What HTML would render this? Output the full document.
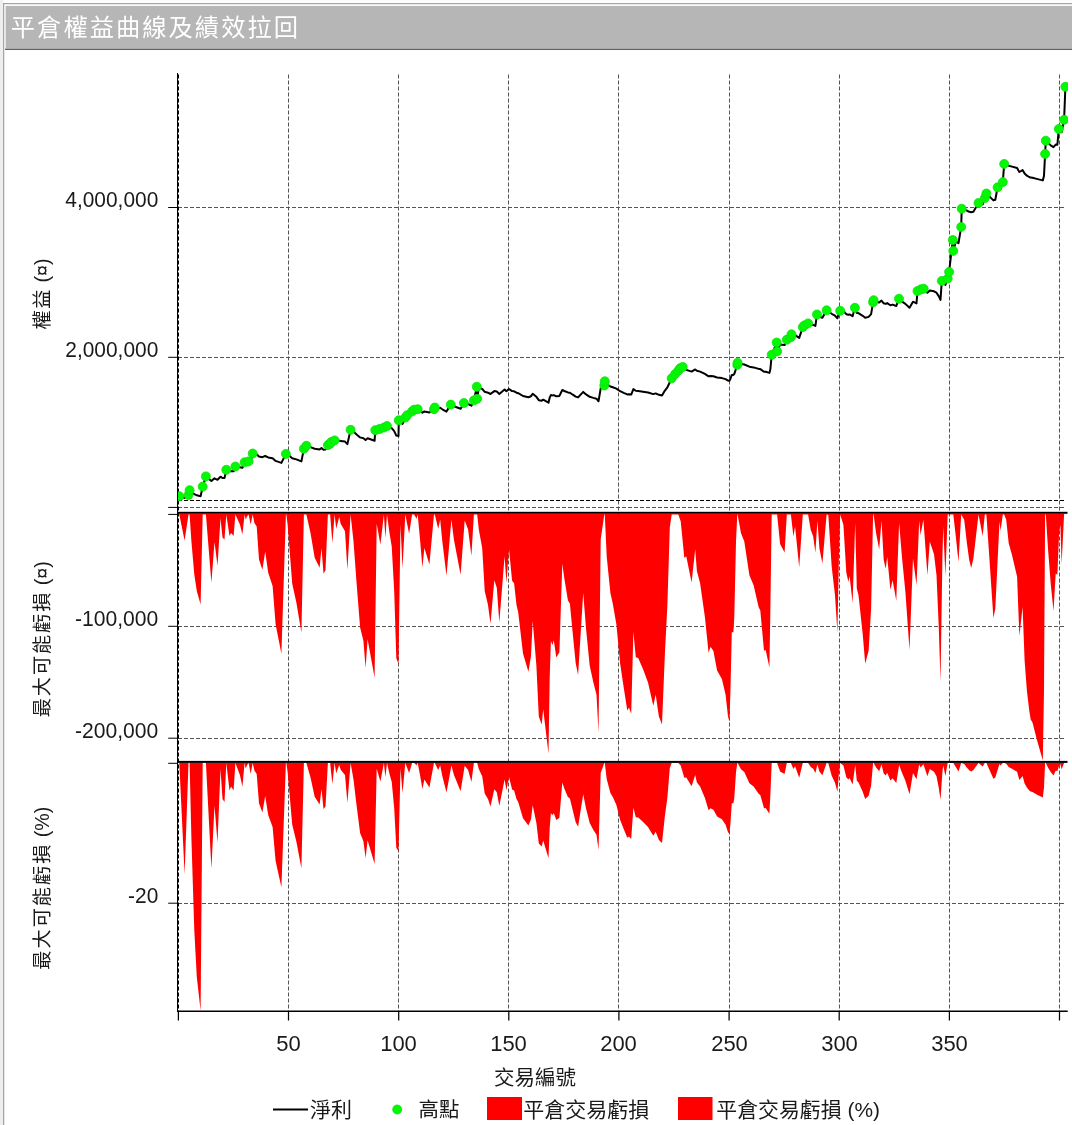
<!DOCTYPE html><html><head><meta charset="utf-8"><title>平倉權益曲線及績效拉回</title>
<style>html,body{margin:0;padding:0;background:#fff;}body{width:1072px;height:1125px;overflow:hidden;}svg{display:block;}text{font-family:'Liberation Sans','Noto Sans CJK TC',sans-serif;fill:#1a1a1a;}</style></head><body>
<svg width="1072" height="1125" viewBox="0 0 1072 1125">
<rect x="0" y="0" width="1072" height="1125" fill="#ffffff"/>
<rect x="0" y="0" width="1072" height="3" fill="#fdfdfd"/>
<rect x="0" y="0" width="3.2" height="1125" fill="#eeeeee"/>
<rect x="3.2" y="3.2" width="1072" height="1" fill="#909090"/>
<rect x="3.2" y="3.2" width="1" height="1125" fill="#909090"/>
<rect x="5.6" y="5.9" width="1070" height="42.8" fill="#b6b6b6"/>
<rect x="5" y="48.7" width="1070" height="1.3" fill="#606060"/>
<text x="10.8" y="35.8" font-size="24.3" letter-spacing="2" style="fill:#ffffff">平倉權益曲線及績效拉回</text>
<defs><clipPath id="plot"><rect x="178" y="60" width="890" height="960"/></clipPath></defs>
<line x1="288.5" y1="74.5" x2="288.5" y2="1011" stroke="#555555" stroke-width="1" stroke-dasharray="4 2"/>
<line x1="398.5" y1="74.5" x2="398.5" y2="1011" stroke="#555555" stroke-width="1" stroke-dasharray="4 2"/>
<line x1="508.5" y1="74.5" x2="508.5" y2="1011" stroke="#555555" stroke-width="1" stroke-dasharray="4 2"/>
<line x1="618.5" y1="74.5" x2="618.5" y2="1011" stroke="#555555" stroke-width="1" stroke-dasharray="4 2"/>
<line x1="729.5" y1="74.5" x2="729.5" y2="1011" stroke="#555555" stroke-width="1" stroke-dasharray="4 2"/>
<line x1="839.5" y1="74.5" x2="839.5" y2="1011" stroke="#555555" stroke-width="1" stroke-dasharray="4 2"/>
<line x1="949.5" y1="74.5" x2="949.5" y2="1011" stroke="#555555" stroke-width="1" stroke-dasharray="4 2"/>
<line x1="1059.5" y1="74.5" x2="1059.5" y2="1011" stroke="#555555" stroke-width="1" stroke-dasharray="4 2"/>
<line x1="178" y1="207.5" x2="1065.5" y2="207.5" stroke="#555555" stroke-width="1" stroke-dasharray="4 2"/>
<line x1="178" y1="357.5" x2="1065.5" y2="357.5" stroke="#555555" stroke-width="1" stroke-dasharray="4 2"/>
<line x1="178" y1="507.5" x2="1065.5" y2="507.5" stroke="#555555" stroke-width="1" stroke-dasharray="4 2"/>
<line x1="178" y1="626.5" x2="1065.5" y2="626.5" stroke="#555555" stroke-width="1" stroke-dasharray="4 2"/>
<line x1="178" y1="738.5" x2="1065.5" y2="738.5" stroke="#555555" stroke-width="1" stroke-dasharray="4 2"/>
<line x1="178" y1="903.5" x2="1065.5" y2="903.5" stroke="#555555" stroke-width="1" stroke-dasharray="4 2"/>
<line x1="178" y1="500.5" x2="1065.5" y2="500.5" stroke="#000" stroke-width="1.1" stroke-dasharray="4 2"/>
<path d="M179.3 513.9 L179.3 514.4 L184.6 540.4 L188.5 514.4 L189.6 514.4 L191.4 541.2 L194.3 574.4 L196.8 591 L200.6 604.6 L202.7 514.4 L205.9 514.4 L211.4 582.7 L214.5 542 L217.5 565.8 L220.5 518.3 L222.5 537.6 L224.5 539.6 L226.3 514.4 L229.5 535.9 L231.1 532.9 L233.6 535.9 L235.4 514.4 L239.9 524.6 L242.4 534.6 L244.6 514.4 L245.7 519.6 L247.1 516.3 L248.6 514.4 L250.7 524.6 L252.7 514.4 L254.4 522.9 L256.7 526.6 L257.7 541.2 L259 559.5 L262.4 569.8 L265.2 551.5 L268.2 572.8 L272.6 586 L275.6 624.2 L281.4 653.8 L285.9 514.4 L286.4 514.6 L287.6 524.6 L292.2 583.6 L296.4 602.7 L301.4 632.5 L303.9 514.4 L306.4 514.4 L310.5 532.9 L314.7 557.8 L319.6 567.8 L321.5 547.9 L323.5 573.6 L325.5 570.3 L327.9 514.4 L330.1 514.4 L332.4 542.9 L334.6 514.4 L336.2 528.8 L339.2 517.1 L340.7 523.8 L345 531.2 L347.4 569.8 L350.6 514.4 L353.5 541.2 L356.3 579.4 L360.1 627.6 L363.4 640.8 L365.6 667.7 L367.6 639.2 L374.6 677.7 L376.7 523.8 L380.4 544.5 L383.9 514.4 L385.4 537.9 L387 514.4 L389.5 532.9 L391.7 546.2 L394.2 591 L396.3 658.3 L398.5 664.1 L400.5 524.6 L402.5 568.6 L405.3 514.4 L409.1 533.7 L412.1 514.4 L414.1 514.4 L416.6 518.8 L417.7 514.4 L419.9 537.9 L422.4 567.4 L424.4 547.9 L429.4 564.5 L434 514.4 L434.8 514.4 L438.2 528.8 L440.2 519.6 L442.3 541.2 L446.5 575.8 L451.4 519.6 L453.9 539.6 L460.6 574.8 L464.7 520.5 L468.1 529.6 L471.4 555.8 L473.9 514.4 L477.2 514.4 L478.8 529.6 L482.2 547.9 L484.7 591 L488 605.1 L490.5 623.7 L494.3 580.2 L496.8 587.7 L499.3 622.6 L504.6 556.2 L506.4 582.7 L509 549.2 L512.1 580.8 L514.1 583.2 L516.5 605 L518.2 612.3 L523 653.5 L528.4 671.7 L531 656 L532.7 620.8 L536.4 665.7 L538.8 716.6 L541.7 724.6 L543.2 709.3 L548.5 753.7 L549.7 677.8 L550.9 640.9 L552.6 645 L553.8 640.2 L556.3 657.6 L559.4 652.3 L562.3 563.8 L564.3 578.3 L567.9 600.2 L569.9 603.8 L572.8 634.1 L575.7 663.2 L578.1 674.9 L583.2 592.9 L586.1 629.3 L589.7 665.7 L593.4 682.6 L596.5 694.8 L598.5 732.8 L600.7 539.5 L604.3 514.4 L604.8 514.4 L606.7 556.5 L610.4 592.9 L612.8 603.8 L616.4 624.4 L620.1 663.2 L623.7 687.5 L627.3 710.5 L629 707.4 L631.2 713.7 L633.4 631.7 L635.8 657.2 L638.2 657.9 L643.1 669.3 L648 682.6 L653.3 705.7 L655.7 694.8 L658.9 716.6 L662 724.6 L664.9 653.5 L667.4 605 L669.8 527.4 L671.7 514.4 L675.1 514.4 L678.3 514.4 L680.7 521.3 L684.3 557.7 L686.3 556.5 L691.6 582.5 L695.2 549.2 L696.9 571.1 L700.1 583.2 L704.9 617.1 L708.6 652.8 L710.5 646.7 L713.4 651.1 L717.1 670.5 L721.9 679 L725.6 694.8 L728 716.6 L729.4 721.4 L730.4 692.7 L731.8 632.2 L733.4 632.2 L734.3 617.1 L736 541.6 L737.3 514.4 L737.6 514.4 L741 533.2 L744.3 541.6 L749.4 575.2 L753.6 585.2 L758.6 607.1 L760.3 610.4 L764 650.7 L765.7 649.9 L769.4 667.5 L770.4 608.7 L771.7 514.4 L777.1 514.4 L780.1 544.1 L784.6 552.5 L786.8 514.4 L790.9 514.4 L793.4 536.5 L795.1 526.5 L799.2 567.6 L802.8 514.4 L808.1 514.4 L810.7 529.8 L813.2 536.5 L815.4 552.5 L817.4 520.6 L819.4 548.3 L822.4 563.4 L826.6 514.4 L828.3 515.1 L831.7 566.8 L835 595.3 L837.4 632.6 L838.9 558.4 L840.2 514.4 L843.4 524.8 L846.3 572.6 L848.4 581.9 L849.6 576 L852.6 602.9 L855.2 523.1 L856.8 588.6 L858.5 595.3 L862.7 633.9 L865.2 663.8 L868.6 650.7 L871.1 608.7 L873.1 514.4 L873.6 514.4 L876.1 533.2 L879.2 549.6 L881.5 520.6 L883.7 560 L885.7 568.8 L887.2 556.7 L890.4 589.8 L892.6 580.2 L896.3 600.7 L899.1 523.1 L902.1 558.4 L905.4 591.9 L909.5 649.9 L913 558.4 L916.5 584.9 L918 550 L919.2 520.6 L920.5 534.9 L923.4 519.8 L925.6 550 L927.4 575.2 L929.8 541.6 L934 554.2 L936.5 575.2 L938.7 625.5 L940.5 682.1 L942.4 558.4 L943.2 526.5 L945.4 576 L947.7 514.4 L953.3 514.4 L955.8 536.5 L958.5 562.1 L961.2 514.4 L964.2 519.8 L966.7 541.6 L969.2 560 L971.2 567.9 L973.4 558.4 L978.5 514.4 L982.7 536 L984.8 514.4 L986.4 514.4 L989.4 558.4 L993.4 618 L995.3 608.7 L999.5 521.4 L1000.6 530.7 L1002.8 514.4 L1004.2 514.4 L1006.2 519.8 L1008.7 543.3 L1012 555 L1017.1 576.8 L1018.3 608.7 L1019.4 635.9 L1022.6 607.1 L1024.6 660.4 L1026.9 690.7 L1029.2 710.3 L1030.7 719.4 L1032.5 722.4 L1036.7 739 L1042.8 760.6 L1044 690.7 L1045.1 514.4 L1045.8 514.4 L1048.1 550 L1050.7 583.6 L1053.5 610.9 L1055.7 573.5 L1057.4 574.7 L1059.1 533.2 L1060.4 524.8 L1061.6 563.9 L1064.1 514.4 L1064.1 513.9Z" fill="#ff0000"/>
<path d="M179.3 762.8 L179.3 763 L184.6 874.2 L188.5 763 L189.6 763 L191.4 837.9 L194.3 930.6 L196.8 977 L200.6 1010.8 L202.7 763 L205.9 763 L211.4 868.8 L214.5 805.8 L217.5 842.6 L220.5 769 L222.5 798.9 L224.5 802 L226.3 763 L229.5 790.5 L231.1 786.6 L233.6 790.5 L235.4 763 L239.9 775 L242.4 786.7 L244.6 763 L245.7 768.6 L247.1 765 L248.6 763 L250.7 773.7 L252.7 763 L254.4 770.6 L256.7 773.9 L257.7 786.9 L259 803.2 L262.4 812.4 L265.2 796.1 L268.2 815 L272.6 826.9 L275.6 860.9 L281.4 887.3 L285.9 763 L286.4 763.2 L287.6 772.1 L292.2 824.6 L296.4 841.7 L301.4 868.3 L303.9 763 L306.4 763 L310.5 777.4 L314.7 796.8 L319.6 804.6 L321.5 789.1 L323.5 809.1 L325.5 806.6 L327.9 763 L330.1 763 L332.4 783.9 L334.6 763 L336.2 773.3 L339.2 765 L340.7 769.7 L345 775.1 L347.4 802.7 L350.6 763 L353.5 779.6 L356.3 803.2 L360.1 833 L363.4 841.3 L365.6 857.9 L367.6 840.2 L374.6 864.1 L376.7 768.8 L380.4 781.4 L383.9 763 L385.4 777.1 L387 763 L389.5 773.9 L391.7 781.7 L394.2 808.2 L396.3 847.8 L398.5 851.2 L400.5 768.6 L402.5 792.9 L405.3 763 L409.1 773.1 L412.1 763 L414.1 763 L416.6 765.2 L417.7 763 L419.9 774.5 L422.4 788.9 L424.4 779.4 L429.4 787.5 L434 763 L434.8 763 L438.2 769.9 L440.2 765.5 L442.3 775.9 L446.5 792.5 L451.4 765.4 L453.9 774.8 L460.6 791.2 L464.7 765.8 L468.1 770 L471.4 782 L473.9 763 L477.2 763 L478.8 769 L482.2 776.3 L484.7 793.5 L488 799.1 L490.5 806.5 L494.3 789.2 L496.8 792.2 L499.3 806 L504.6 779.6 L506.4 790.2 L509 776.9 L512.1 789.4 L514.1 790.4 L516.5 799 L518.2 801.9 L523 818.3 L528.4 825.6 L531 819.3 L532.7 805.3 L536.4 823.1 L538.8 843.4 L541.7 846.6 L543.2 840.5 L548.5 858.2 L549.7 828 L550.9 813.3 L552.6 815 L553.8 813 L556.3 820 L559.4 817.8 L562.3 782.6 L564.3 788.4 L567.9 797.1 L569.9 798.6 L572.8 810.6 L575.7 822.2 L578.1 826.8 L583.2 794.2 L586.1 808.7 L589.7 823.1 L593.4 829.9 L596.5 834.7 L598.5 849.9 L600.7 773 L604.3 763 L604.8 763 L606.7 779 L610.4 792.9 L612.8 797 L616.4 804.9 L620.1 819.7 L623.7 828.9 L627.3 837.7 L629 836.5 L631.2 838.9 L633.4 807.7 L635.8 817.3 L638.2 817.6 L643.1 822 L648 827 L653.3 835.8 L655.7 831.7 L658.9 840 L662 843 L664.9 816 L667.4 797.5 L669.8 767.9 L671.7 763 L675.1 763 L678.3 763 L680.7 765.4 L684.3 777.8 L686.3 777.4 L691.6 786.3 L695.2 774.9 L696.9 782.4 L700.1 786.5 L704.9 798.1 L708.6 810.3 L710.5 808.3 L713.4 809.8 L717.1 816.4 L721.9 819.3 L725.6 824.7 L728 832.2 L729.4 833.8 L730.4 824 L731.8 803.3 L733.4 803.3 L734.3 798.1 L736 772.3 L737.3 763 L737.6 763 L741 769.2 L744.3 772 L749.4 783.2 L753.6 786.5 L758.6 793.7 L760.3 794.9 L764 808.2 L765.7 807.9 L769.4 813.8 L770.4 794.3 L771.7 763 L777.1 763 L780.1 771.6 L784.6 774.1 L786.8 763 L790.9 763 L793.4 769.1 L795.1 766.3 L799.2 777.8 L802.8 763 L808.1 763 L810.7 767 L813.2 768.8 L815.4 772.9 L817.4 764.5 L819.4 771.4 L822.4 775.2 L826.6 763 L828.3 763.2 L831.7 775.8 L835 782.7 L837.4 791.8 L838.9 773.7 L840.2 763 L843.4 765.5 L846.3 777.2 L848.4 779.4 L849.6 778 L852.6 784.5 L855.2 765.1 L856.8 780.8 L858.5 782.5 L862.7 791.7 L865.2 798.9 L868.6 795.8 L871.1 785.7 L873.1 763 L873.6 763 L876.1 767.4 L879.2 771.2 L881.5 764.4 L883.7 773.6 L885.7 775.6 L887.2 772.8 L890.4 780.5 L892.6 778.2 L896.3 783 L899.1 765 L902.1 773.1 L905.4 780.8 L909.5 794.2 L913 773.1 L916.5 779.2 L918 770.9 L919.2 764.4 L920.5 767.5 L923.4 764.2 L925.6 770.8 L927.4 776.3 L929.8 769 L934 771.7 L936.5 776.3 L938.7 787.4 L940.5 799.8 L942.4 772.3 L943.2 765.6 L945.4 776.1 L947.7 763 L953.3 763 L955.8 767 L958.5 771.6 L961.2 763 L964.2 763.9 L966.7 767.4 L969.2 770.3 L971.2 771.6 L973.4 770.1 L978.5 763 L982.7 766.4 L984.8 763 L986.4 763 L989.4 769.7 L993.4 778.8 L995.3 777.4 L999.5 764.1 L1000.6 765.4 L1002.8 763 L1004.2 763 L1006.2 763.7 L1008.7 767 L1012 768.7 L1017.1 771.7 L1018.3 776.2 L1019.4 780 L1022.6 775.9 L1024.6 783.4 L1026.9 787.6 L1029.2 790.4 L1030.7 791.6 L1032.5 792.1 L1036.7 794.4 L1042.8 797.4 L1044 787.6 L1045.1 763 L1045.8 763 L1048.1 767.7 L1050.7 772.1 L1053.5 775.6 L1055.7 770.7 L1057.4 770.9 L1059.1 765.4 L1060.4 764.3 L1061.6 769.3 L1064.1 763 L1064.1 762.8Z" fill="#ff0000"/>
<line x1="177.5" y1="73" x2="177.5" y2="1011.5" stroke="#000" stroke-width="1"/>
<line x1="178.5" y1="74.5" x2="178.5" y2="1011.5" stroke="#000" stroke-width="1" stroke-dasharray="4 2"/>
<rect x="177.2" y="511.8" width="890.3" height="2" fill="#000"/>
<rect x="177.2" y="760.9" width="890.3" height="2" fill="#000"/>
<line x1="177" y1="1011.2" x2="1067.7" y2="1011.2" stroke="#000" stroke-width="1.5"/>
<line x1="168.2" y1="207.5" x2="178" y2="207.5" stroke="#000" stroke-width="1"/>
<line x1="168.2" y1="357.3" x2="178" y2="357.3" stroke="#000" stroke-width="1"/>
<line x1="168.2" y1="507.4" x2="178" y2="507.4" stroke="#000" stroke-width="1"/>
<line x1="168.2" y1="514.4" x2="178" y2="514.4" stroke="#000" stroke-width="1"/>
<line x1="168.2" y1="626.3" x2="178" y2="626.3" stroke="#000" stroke-width="1"/>
<line x1="168.2" y1="738.2" x2="178" y2="738.2" stroke="#000" stroke-width="1"/>
<line x1="168.2" y1="763.3" x2="178" y2="763.3" stroke="#000" stroke-width="1"/>
<line x1="168.2" y1="903.2" x2="178" y2="903.2" stroke="#000" stroke-width="1"/>
<line x1="178.4" y1="1011" x2="178.4" y2="1020.5" stroke="#000" stroke-width="1.25"/>
<line x1="288.5" y1="1011" x2="288.5" y2="1020.5" stroke="#000" stroke-width="1.25"/>
<line x1="398.7" y1="1011" x2="398.7" y2="1020.5" stroke="#000" stroke-width="1.25"/>
<line x1="508.8" y1="1011" x2="508.8" y2="1020.5" stroke="#000" stroke-width="1.25"/>
<line x1="618.9" y1="1011" x2="618.9" y2="1020.5" stroke="#000" stroke-width="1.25"/>
<line x1="729.1" y1="1011" x2="729.1" y2="1020.5" stroke="#000" stroke-width="1.25"/>
<line x1="839.2" y1="1011" x2="839.2" y2="1020.5" stroke="#000" stroke-width="1.25"/>
<line x1="949.4" y1="1011" x2="949.4" y2="1020.5" stroke="#000" stroke-width="1.25"/>
<line x1="1059.5" y1="1011" x2="1059.5" y2="1020.5" stroke="#000" stroke-width="1.25"/>
<path d="M178.4 500 L179.3 496.2 L184.6 497.9 L188.5 495 L189.6 490.2 L191.4 492 L194.3 494.2 L196.8 495.3 L200.6 496.2 L202.7 486.6 L205.9 476.4 L211.4 481 L214.5 478.3 L217.5 479.8 L220.5 476.7 L222.5 478 L224.5 478.1 L226.3 469.8 L229.5 471.3 L231.1 471.1 L233.6 471.3 L235.4 466.5 L239.9 467.2 L242.4 467.8 L244.6 462.3 L245.7 462.6 L248.6 461.4 L250.7 462.1 L252.7 453.5 L254.4 454.1 L256.7 454.4 L257.7 455.3 L259 456.6 L262.4 457.2 L265.2 456 L268.2 457.4 L272.6 458.3 L275.6 460.9 L281.4 462.9 L285.9 453.9 L287.6 454.2 L292.2 458.2 L296.4 459.4 L301.4 461.4 L303.9 448.8 L306.4 445.8 L310.5 447.1 L314.7 448.7 L319.6 449.4 L321.5 448.1 L323.5 449.8 L325.5 449.6 L327.9 445.1 L330.1 443.8 L331.2 442.1 L332.4 444 L334.6 440.4 L336.2 441.4 L339.2 440.6 L340.7 441.1 L345 441.6 L347.4 444.1 L350.6 429.8 L353.5 431.6 L356.3 434.2 L360.1 437.4 L363.4 438.3 L365.6 440.1 L367.6 438.2 L374.6 440.8 L375.3 430.2 L376.7 430.5 L379.5 429 L380.4 431 L383.9 427.6 L385.4 429.2 L387 426 L389.5 427.2 L391.7 428.1 L394.2 431.1 L396.3 435.6 L398.5 436 L398.8 420.3 L400.5 420.9 L402.5 423.9 L405.3 417.6 L407.2 415.2 L409.1 416.5 L412.1 411.4 L414.1 409.7 L416.6 410 L417.7 409.2 L419.9 410.7 L422.4 412.7 L424.4 411.4 L429.4 412.5 L434 409.2 L434.8 407.5 L438.2 408.5 L440.2 407.8 L442.3 409.3 L446.5 411.6 L450.8 404.6 L451.4 405 L453.9 406.3 L460.6 408.7 L463.9 403 L464.7 403.4 L468.1 404 L471.4 405.7 L473.9 400.4 L476.8 386.7 L477.2 398.8 L478.8 387.7 L482.2 388.9 L484.7 391.8 L488 392.7 L490.5 394 L494.3 391.1 L496.8 391.6 L499.3 393.9 L504.6 389.5 L506.4 391.2 L509 389 L512.1 391.1 L514.1 391.3 L516.5 392.7 L518.2 393.2 L523 396 L528.4 397.2 L531 396.2 L532.7 393.8 L536.4 396.8 L538.8 400.2 L541.7 400.7 L543.2 399.7 L548.5 402.7 L549.7 397.6 L550.9 395.1 L552.6 395.4 L553.8 395.1 L556.3 396.3 L559.4 395.9 L562.3 390 L564.3 391 L567.9 392.4 L569.9 392.7 L572.8 394.7 L575.7 396.6 L578.1 397.4 L583.2 391.9 L586.1 394.4 L589.7 396.8 L593.4 397.9 L596.5 398.7 L598.5 401.3 L600.7 388.4 L604.3 385.5 L604.8 381.3 L606.7 384.1 L610.4 386.5 L612.8 387.3 L616.4 388.6 L620.1 391.2 L623.7 392.9 L627.3 394.4 L629 394.2 L631.2 394.6 L633.4 389.1 L635.8 390.8 L638.2 390.9 L643.1 391.7 L648 392.5 L653.3 394.1 L655.7 393.4 L658.9 394.8 L662 395.4 L664.9 390.6 L667.4 387.3 L669.8 382.2 L671.7 378.3 L675.1 374.1 L678.3 370.7 L680.1 368.2 L680.7 368.7 L682.7 367 L684.3 369.9 L686.3 369.9 L691.6 371.6 L695.2 369.4 L696.9 370.8 L700.1 371.6 L704.9 373.9 L708.6 376.3 L710.5 375.9 L713.4 376.2 L717.1 377.5 L721.9 378.1 L725.6 379.1 L728 380.6 L729.4 380.9 L730.4 379 L731.8 374.9 L733.4 374.9 L734.3 373.9 L736 368.9 L737.3 364.9 L737.6 362.7 L741 363.9 L744.3 364.5 L749.4 366.7 L753.6 367.4 L758.6 368.9 L760.3 369.1 L764 371.8 L765.7 371.7 L769.4 372.9 L770.4 369 L771.7 354.8 L776.7 342.5 L777.1 351.4 L780.1 344.5 L784.6 345.1 L786.8 339.7 L790.9 337.2 L791.5 334.3 L793.4 335.8 L795.1 335.1 L799.2 337.9 L802.8 327.1 L804.4 325.4 L808.1 323.4 L810.7 324.4 L813.2 324.9 L815.4 325.9 L817 314.5 L817.4 314.9 L819.4 316.8 L822.4 317.8 L826.6 310.3 L831.7 313.8 L835 315.7 L837.4 318.2 L838.9 313.2 L840.2 310.8 L843.4 311 L846.3 314.2 L848.4 314.8 L849.6 314.4 L852.6 316.2 L854.9 307.8 L855.2 308.4 L856.8 312.8 L858.5 313.2 L862.7 315.8 L865.2 317.8 L868.6 316.9 L871.1 314.1 L873.1 302.4 L873.6 300.2 L876.1 301.5 L879.2 302.6 L881.5 300.6 L883.7 303.3 L885.7 303.9 L887.2 303.1 L890.4 305.3 L892.6 304.6 L896.3 306 L899 298.7 L899.1 299.3 L902.1 301.7 L905.4 303.9 L909.5 307.8 L913 301.7 L916.5 303.4 L917.5 291 L918 293.4 L919.2 291.4 L920.5 292.4 L920.9 289.3 L923.4 289.7 L923.7 288.7 L925.6 291 L927.4 292.7 L929.8 290.5 L934 291.3 L936.5 292.7 L938.7 296.1 L940.5 299.9 L941.8 280.9 L942.4 283.9 L943.2 281.7 L945.4 285 L947.7 278.6 L949.1 271.9 L952.8 240 L953.3 250.9 L955.8 241.4 L958.5 243.2 L961.2 226.9 L961.7 208.7 L964.2 209.1 L966.7 210.5 L969.2 211.8 L971.2 212.3 L973.4 211.7 L978.5 203 L982.7 204.4 L984.8 198 L986.4 193.5 L989.4 196.4 L993.4 200.4 L995.3 199.8 L997.6 187.3 L999.5 187.8 L1000.6 188.4 L1002.8 182.1 L1004.2 163.9 L1006.2 164.2 L1008.7 165.8 L1012 166.6 L1017.1 168 L1018.3 170.2 L1019.4 172 L1022.6 170.1 L1024.6 173.6 L1026.9 175.7 L1029.2 177 L1030.7 177.6 L1032.5 177.8 L1036.7 178.9 L1042.8 180.4 L1044 175.7 L1045.1 153.9 L1045.8 140.7 L1048.1 143.1 L1050.7 145.3 L1053.5 147.1 L1055.7 144.6 L1057.4 144.7 L1058.8 129 L1059.1 130.3 L1060.4 129.7 L1061.6 132.3 L1064.1 119.8 L1065.4 86.8" fill="none" stroke="#000" stroke-width="2" stroke-linejoin="round"/>
<circle cx="179.3" cy="496.2" r="4.5" fill="#02f902" stroke="#12dc12" stroke-width="0.8" clip-path="url(#plot)"/>
<circle cx="188.5" cy="495" r="4.5" fill="#02f902" stroke="#12dc12" stroke-width="0.8" clip-path="url(#plot)"/>
<circle cx="189.6" cy="490.2" r="4.5" fill="#02f902" stroke="#12dc12" stroke-width="0.8" clip-path="url(#plot)"/>
<circle cx="202.7" cy="486.6" r="4.5" fill="#02f902" stroke="#12dc12" stroke-width="0.8" clip-path="url(#plot)"/>
<circle cx="205.9" cy="476.4" r="4.5" fill="#02f902" stroke="#12dc12" stroke-width="0.8" clip-path="url(#plot)"/>
<circle cx="226.3" cy="469.8" r="4.5" fill="#02f902" stroke="#12dc12" stroke-width="0.8" clip-path="url(#plot)"/>
<circle cx="235.4" cy="466.5" r="4.5" fill="#02f902" stroke="#12dc12" stroke-width="0.8" clip-path="url(#plot)"/>
<circle cx="244.6" cy="462.3" r="4.5" fill="#02f902" stroke="#12dc12" stroke-width="0.8" clip-path="url(#plot)"/>
<circle cx="248.6" cy="461.4" r="4.5" fill="#02f902" stroke="#12dc12" stroke-width="0.8" clip-path="url(#plot)"/>
<circle cx="252.7" cy="453.5" r="4.5" fill="#02f902" stroke="#12dc12" stroke-width="0.8" clip-path="url(#plot)"/>
<circle cx="285.9" cy="453.9" r="4.5" fill="#02f902" stroke="#12dc12" stroke-width="0.8" clip-path="url(#plot)"/>
<circle cx="303.9" cy="448.8" r="4.5" fill="#02f902" stroke="#12dc12" stroke-width="0.8" clip-path="url(#plot)"/>
<circle cx="306.4" cy="445.8" r="4.5" fill="#02f902" stroke="#12dc12" stroke-width="0.8" clip-path="url(#plot)"/>
<circle cx="327.9" cy="445.1" r="4.5" fill="#02f902" stroke="#12dc12" stroke-width="0.8" clip-path="url(#plot)"/>
<circle cx="330.1" cy="443.8" r="4.5" fill="#02f902" stroke="#12dc12" stroke-width="0.8" clip-path="url(#plot)"/>
<circle cx="331.2" cy="442.1" r="4.5" fill="#02f902" stroke="#12dc12" stroke-width="0.8" clip-path="url(#plot)"/>
<circle cx="334.6" cy="440.4" r="4.5" fill="#02f902" stroke="#12dc12" stroke-width="0.8" clip-path="url(#plot)"/>
<circle cx="350.6" cy="429.8" r="4.5" fill="#02f902" stroke="#12dc12" stroke-width="0.8" clip-path="url(#plot)"/>
<circle cx="375.3" cy="430.2" r="4.5" fill="#02f902" stroke="#12dc12" stroke-width="0.8" clip-path="url(#plot)"/>
<circle cx="379.5" cy="429" r="4.5" fill="#02f902" stroke="#12dc12" stroke-width="0.8" clip-path="url(#plot)"/>
<circle cx="383.9" cy="427.6" r="4.5" fill="#02f902" stroke="#12dc12" stroke-width="0.8" clip-path="url(#plot)"/>
<circle cx="387" cy="426" r="4.5" fill="#02f902" stroke="#12dc12" stroke-width="0.8" clip-path="url(#plot)"/>
<circle cx="398.8" cy="420.3" r="4.5" fill="#02f902" stroke="#12dc12" stroke-width="0.8" clip-path="url(#plot)"/>
<circle cx="405.3" cy="417.6" r="4.5" fill="#02f902" stroke="#12dc12" stroke-width="0.8" clip-path="url(#plot)"/>
<circle cx="407.2" cy="415.2" r="4.5" fill="#02f902" stroke="#12dc12" stroke-width="0.8" clip-path="url(#plot)"/>
<circle cx="412.1" cy="411.4" r="4.5" fill="#02f902" stroke="#12dc12" stroke-width="0.8" clip-path="url(#plot)"/>
<circle cx="414.1" cy="409.7" r="4.5" fill="#02f902" stroke="#12dc12" stroke-width="0.8" clip-path="url(#plot)"/>
<circle cx="417.7" cy="409.2" r="4.5" fill="#02f902" stroke="#12dc12" stroke-width="0.8" clip-path="url(#plot)"/>
<circle cx="434" cy="409.2" r="4.5" fill="#02f902" stroke="#12dc12" stroke-width="0.8" clip-path="url(#plot)"/>
<circle cx="434.8" cy="407.5" r="4.5" fill="#02f902" stroke="#12dc12" stroke-width="0.8" clip-path="url(#plot)"/>
<circle cx="450.8" cy="404.6" r="4.5" fill="#02f902" stroke="#12dc12" stroke-width="0.8" clip-path="url(#plot)"/>
<circle cx="463.9" cy="403" r="4.5" fill="#02f902" stroke="#12dc12" stroke-width="0.8" clip-path="url(#plot)"/>
<circle cx="473.9" cy="400.4" r="4.5" fill="#02f902" stroke="#12dc12" stroke-width="0.8" clip-path="url(#plot)"/>
<circle cx="476.8" cy="386.7" r="4.5" fill="#02f902" stroke="#12dc12" stroke-width="0.8" clip-path="url(#plot)"/>
<circle cx="477.2" cy="398.8" r="4.5" fill="#02f902" stroke="#12dc12" stroke-width="0.8" clip-path="url(#plot)"/>
<circle cx="604.3" cy="385.5" r="4.5" fill="#02f902" stroke="#12dc12" stroke-width="0.8" clip-path="url(#plot)"/>
<circle cx="604.8" cy="381.3" r="4.5" fill="#02f902" stroke="#12dc12" stroke-width="0.8" clip-path="url(#plot)"/>
<circle cx="671.7" cy="378.3" r="4.5" fill="#02f902" stroke="#12dc12" stroke-width="0.8" clip-path="url(#plot)"/>
<circle cx="675.1" cy="374.1" r="4.5" fill="#02f902" stroke="#12dc12" stroke-width="0.8" clip-path="url(#plot)"/>
<circle cx="678.3" cy="370.7" r="4.5" fill="#02f902" stroke="#12dc12" stroke-width="0.8" clip-path="url(#plot)"/>
<circle cx="680.1" cy="368.2" r="4.5" fill="#02f902" stroke="#12dc12" stroke-width="0.8" clip-path="url(#plot)"/>
<circle cx="682.7" cy="367" r="4.5" fill="#02f902" stroke="#12dc12" stroke-width="0.8" clip-path="url(#plot)"/>
<circle cx="737.3" cy="364.9" r="4.5" fill="#02f902" stroke="#12dc12" stroke-width="0.8" clip-path="url(#plot)"/>
<circle cx="737.6" cy="362.7" r="4.5" fill="#02f902" stroke="#12dc12" stroke-width="0.8" clip-path="url(#plot)"/>
<circle cx="771.7" cy="354.8" r="4.5" fill="#02f902" stroke="#12dc12" stroke-width="0.8" clip-path="url(#plot)"/>
<circle cx="776.7" cy="342.5" r="4.5" fill="#02f902" stroke="#12dc12" stroke-width="0.8" clip-path="url(#plot)"/>
<circle cx="777.1" cy="351.4" r="4.5" fill="#02f902" stroke="#12dc12" stroke-width="0.8" clip-path="url(#plot)"/>
<circle cx="786.8" cy="339.7" r="4.5" fill="#02f902" stroke="#12dc12" stroke-width="0.8" clip-path="url(#plot)"/>
<circle cx="790.9" cy="337.2" r="4.5" fill="#02f902" stroke="#12dc12" stroke-width="0.8" clip-path="url(#plot)"/>
<circle cx="791.5" cy="334.3" r="4.5" fill="#02f902" stroke="#12dc12" stroke-width="0.8" clip-path="url(#plot)"/>
<circle cx="802.8" cy="327.1" r="4.5" fill="#02f902" stroke="#12dc12" stroke-width="0.8" clip-path="url(#plot)"/>
<circle cx="804.4" cy="325.4" r="4.5" fill="#02f902" stroke="#12dc12" stroke-width="0.8" clip-path="url(#plot)"/>
<circle cx="808.1" cy="323.4" r="4.5" fill="#02f902" stroke="#12dc12" stroke-width="0.8" clip-path="url(#plot)"/>
<circle cx="817" cy="314.5" r="4.5" fill="#02f902" stroke="#12dc12" stroke-width="0.8" clip-path="url(#plot)"/>
<circle cx="826.6" cy="310.3" r="4.5" fill="#02f902" stroke="#12dc12" stroke-width="0.8" clip-path="url(#plot)"/>
<circle cx="840.2" cy="310.8" r="4.5" fill="#02f902" stroke="#12dc12" stroke-width="0.8" clip-path="url(#plot)"/>
<circle cx="854.9" cy="307.8" r="4.5" fill="#02f902" stroke="#12dc12" stroke-width="0.8" clip-path="url(#plot)"/>
<circle cx="873.1" cy="302.4" r="4.5" fill="#02f902" stroke="#12dc12" stroke-width="0.8" clip-path="url(#plot)"/>
<circle cx="873.6" cy="300.2" r="4.5" fill="#02f902" stroke="#12dc12" stroke-width="0.8" clip-path="url(#plot)"/>
<circle cx="899" cy="298.7" r="4.5" fill="#02f902" stroke="#12dc12" stroke-width="0.8" clip-path="url(#plot)"/>
<circle cx="917.5" cy="291" r="4.5" fill="#02f902" stroke="#12dc12" stroke-width="0.8" clip-path="url(#plot)"/>
<circle cx="920.9" cy="289.3" r="4.5" fill="#02f902" stroke="#12dc12" stroke-width="0.8" clip-path="url(#plot)"/>
<circle cx="923.7" cy="288.7" r="4.5" fill="#02f902" stroke="#12dc12" stroke-width="0.8" clip-path="url(#plot)"/>
<circle cx="941.8" cy="280.9" r="4.5" fill="#02f902" stroke="#12dc12" stroke-width="0.8" clip-path="url(#plot)"/>
<circle cx="947.7" cy="278.6" r="4.5" fill="#02f902" stroke="#12dc12" stroke-width="0.8" clip-path="url(#plot)"/>
<circle cx="949.1" cy="271.9" r="4.5" fill="#02f902" stroke="#12dc12" stroke-width="0.8" clip-path="url(#plot)"/>
<circle cx="952.8" cy="240" r="4.5" fill="#02f902" stroke="#12dc12" stroke-width="0.8" clip-path="url(#plot)"/>
<circle cx="953.3" cy="250.9" r="4.5" fill="#02f902" stroke="#12dc12" stroke-width="0.8" clip-path="url(#plot)"/>
<circle cx="961.2" cy="226.9" r="4.5" fill="#02f902" stroke="#12dc12" stroke-width="0.8" clip-path="url(#plot)"/>
<circle cx="961.7" cy="208.7" r="4.5" fill="#02f902" stroke="#12dc12" stroke-width="0.8" clip-path="url(#plot)"/>
<circle cx="978.5" cy="203" r="4.5" fill="#02f902" stroke="#12dc12" stroke-width="0.8" clip-path="url(#plot)"/>
<circle cx="984.8" cy="198" r="4.5" fill="#02f902" stroke="#12dc12" stroke-width="0.8" clip-path="url(#plot)"/>
<circle cx="986.4" cy="193.5" r="4.5" fill="#02f902" stroke="#12dc12" stroke-width="0.8" clip-path="url(#plot)"/>
<circle cx="997.6" cy="187.3" r="4.5" fill="#02f902" stroke="#12dc12" stroke-width="0.8" clip-path="url(#plot)"/>
<circle cx="1002.8" cy="182.1" r="4.5" fill="#02f902" stroke="#12dc12" stroke-width="0.8" clip-path="url(#plot)"/>
<circle cx="1004.2" cy="163.9" r="4.5" fill="#02f902" stroke="#12dc12" stroke-width="0.8" clip-path="url(#plot)"/>
<circle cx="1045.1" cy="153.9" r="4.5" fill="#02f902" stroke="#12dc12" stroke-width="0.8" clip-path="url(#plot)"/>
<circle cx="1045.8" cy="140.7" r="4.5" fill="#02f902" stroke="#12dc12" stroke-width="0.8" clip-path="url(#plot)"/>
<circle cx="1058.8" cy="129" r="4.5" fill="#02f902" stroke="#12dc12" stroke-width="0.8" clip-path="url(#plot)"/>
<circle cx="1064.1" cy="119.8" r="4.5" fill="#02f902" stroke="#12dc12" stroke-width="0.8" clip-path="url(#plot)"/>
<circle cx="1065.4" cy="86.8" r="4.5" fill="#02f902" stroke="#12dc12" stroke-width="0.8" clip-path="url(#plot)"/>
<text x="158.3" y="207.2" font-size="22.3" text-anchor="end"  textLength="93" lengthAdjust="spacingAndGlyphs">4,000,000</text>
<text x="158.3" y="357" font-size="22.3" text-anchor="end"  textLength="93" lengthAdjust="spacingAndGlyphs">2,000,000</text>
<text x="158.3" y="626" font-size="22.3" text-anchor="end"  textLength="83.3" lengthAdjust="spacingAndGlyphs">-100,000</text>
<text x="158.3" y="737.9" font-size="22.3" text-anchor="end"  textLength="83.3" lengthAdjust="spacingAndGlyphs">-200,000</text>
<text x="158.3" y="903" font-size="22.3" text-anchor="end"  textLength="30.2" lengthAdjust="spacingAndGlyphs">-20</text>
<text x="288.5" y="1050.8" font-size="22" text-anchor="middle" >50</text>
<text x="398.5" y="1050.8" font-size="22" text-anchor="middle" >100</text>
<text x="508.5" y="1050.8" font-size="22" text-anchor="middle" >150</text>
<text x="618.5" y="1050.8" font-size="22" text-anchor="middle" >200</text>
<text x="729.5" y="1050.8" font-size="22" text-anchor="middle" >250</text>
<text x="839.5" y="1050.8" font-size="22" text-anchor="middle" >300</text>
<text x="949.5" y="1050.8" font-size="22" text-anchor="middle" >350</text>
<text transform="translate(49.3 294) rotate(-90)" font-size="19.2" text-anchor="middle"><tspan letter-spacing="1.6">權益</tspan><tspan font-size="19.599999999999998"> (¤)</tspan></text>
<text transform="translate(49.3 639.3) rotate(-90)" font-size="19.2" text-anchor="middle"><tspan letter-spacing="1.9">最大可能虧損</tspan><tspan font-size="19.599999999999998"> (¤)</tspan></text>
<text transform="translate(49.3 888.2) rotate(-90)" font-size="19.2" text-anchor="middle"><tspan letter-spacing="2.0">最大可能虧損</tspan><tspan font-size="19.599999999999998"> (%)</tspan></text>
<text x="535" y="1085" font-size="20.5" text-anchor="middle" >交易編號</text>
<line x1="273" y1="1109.5" x2="308" y2="1109.5" stroke="#000" stroke-width="2"/>
<text x="310" y="1117" font-size="21" text-anchor="start" >淨利</text>
<circle cx="397.2" cy="1109.5" r="4.5" fill="#02f902" stroke="#12dc12" stroke-width="0.8"/>
<text x="418.5" y="1117" font-size="20.4" text-anchor="start" >高點</text>
<rect x="487" y="1097" width="35" height="23" fill="#ff0000"/>
<text x="523.3" y="1117" font-size="21" text-anchor="start" >平倉交易虧損</text>
<rect x="678" y="1097" width="34.5" height="23" fill="#ff0000"/>
<text x="716.3" y="1117" font-size="20.9" text-anchor="start" >平倉交易虧損 (%)</text>
</svg></body></html>
